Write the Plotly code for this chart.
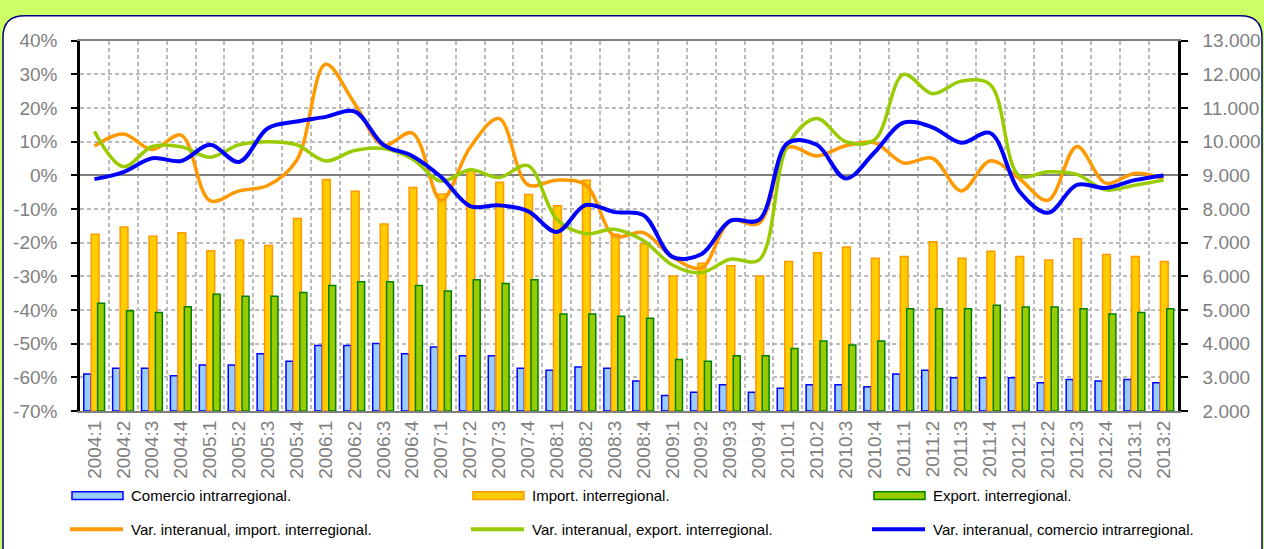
import plotly.graph_objects as go

W, H = 1264, 549

# Data
periods = [
    "2004:1", "2004:2", "2004:3", "2004:4", "2005:1", "2005:2", "2005:3", "2005:4",
    "2006:1", "2006:2", "2006:3", "2006:4", "2007:1", "2007:2", "2007:3", "2007:4",
    "2008:1", "2008:2", "2008:3", "2008:4", "2009:1", "2009:2", "2009:3", "2009:4",
    "2010:1", "2010:2", "2010:3", "2010:4", "2011:1", "2011:2", "2011:3", "2011:4",
    "2012:1", "2012:2", "2012:3", "2012:4", "2013:1", "2013:2",
]

comercio = [
    3100, 3270, 3270, 3050, 3370, 3370, 3700, 3480, 3950, 3950, 4010, 3700,
    3900, 3640, 3640, 3270, 3210, 3310, 3270, 2890, 2460, 2560, 2780, 2560,
    2680, 2780, 2780, 2720, 3100, 3210, 2990, 2990, 2990, 2840, 2940, 2890,
    2940, 2840,
]
importacion = [
    7250, 7470, 7190, 7300, 6760, 7080, 6920, 7720, 8880, 8530, 7560, 8640,
    8450, 9140, 8800, 8430, 8100, 8860, 7250, 6960, 6010, 6390, 6320, 6010,
    6440, 6700, 6870, 6540, 6590, 7030, 6540, 6750, 6590, 6490, 7120, 6650,
    6590, 6440,
]
exportacion = [
    5200, 4980, 4930, 5100, 5470, 5410, 5410, 5520, 5730, 5840, 5840, 5730,
    5570, 5900, 5790, 5900, 4880, 4880, 4820, 4760, 3530, 3480, 3640, 3640,
    3860, 4080, 3960, 4080, 5040, 5040, 5040, 5140, 5090, 5090, 5040, 4880,
    4930, 5040,
]

var_import = [
    8.7, 12.3, 7.7, 12.0, -7.5, -4.6, -3.0, 4.5, 33.0, 21.4, 9.0, 12.6,
    -7.4, 8.3, 16.9, -2.8, -1.4, -2.8, -18.0, -17.0, -24.2, -27.5, -13.5, -14.2,
    8.3, 5.8, 8.8, 9.7, 3.7, 5.1, -4.6, 4.3, -0.9, -7.4, 8.6, -2.3, 0.6, -0.9,
]
var_export = [
    13.1, 2.6, 8.6, 8.5, 5.4, 9.1, 10.0, 9.1, 4.3, 7.4, 8.0, 4.9,
    -1.7, 1.7, -0.6, 2.9, -13.0, -17.3, -16.0, -19.4, -26.6, -28.9, -24.9, -25.1,
    9.1, 16.9, 10.0, 10.6, 30.0, 24.3, 28.0, 27.0, 0.0, 1.1, 0.3, -4.3, -2.9, -1.4,
]
var_comercio = [
    -1.1, 1.0, 5.1, 4.3, 9.1, 4.0, 14.0, 16.0, 17.4, 19.0, 9.1, 5.8,
    -0.5, -9.1, -8.9, -10.6, -16.8, -8.8, -10.9, -11.8, -24.2, -23.4, -13.5, -13.2,
    9.7, 9.1, -0.9, 6.9, 15.7, 14.3, 9.7, 12.6, -4.6, -11.1, -2.8, -3.7, -1.4, 0.0,
]

pct_ticks = [40, 30, 20, 10, 0, -10, -20, -30, -40, -50, -60, -70]
pct_labels = ["40%", "30%", "20%", "10%", "0%", "-10%", "-20%", "-30%",
              "-40%", "-50%", "-60%", "-70%"]
val_ticks = [13000, 12000, 11000, 10000, 9000, 8000, 7000, 6000, 5000, 4000, 3000, 2000]
val_labels = ["13.000", "12.000", "11.000", "10.000", "9.000", "8.000",
              "7.000", "6.000", "5.000", "4.000", "3.000", "2.000"]

bar_names = ["Comercio intrarregional.", "Import. interregional.", "Export. interregional."]
line_names = ["Var. interanual, import. interregional.",
              "Var. interanual, export. interregional.",
              "Var. interanual, comercio intrarregional."]

FONT = "Liberation Sans, Arial, sans-serif"
GRAY = "#808080"
GRID = "#BBBBBB"


def px(x):
    return x / W


def py(y):
    return 1 - y / H


fig = go.Figure()

# bars (value axis on the right)
bar_styles = [
    ("#99CCFF", "#0000FF", -0.37, 0.25, comercio),
    ("#FFCC00", "#FF9900", -0.11, 0.27, importacion),
    ("#99CC00", "#008000", 0.11, 0.24, exportacion),
]
for name, (fill, edge, off, wid, vals) in zip(bar_names, bar_styles):
    fig.add_trace(
        go.Bar(
            x=periods,
            y=[v - 2000 for v in vals],
            base=2000,
            name=name,
            offset=off,
            width=wid,
            marker=dict(color=fill, line=dict(color=edge, width=1.5)),
            yaxis="y",
            showlegend=False,
        )
    )

# smoothed lines (percent axis on the left)
line_styles = [("#FF9900", 3.5, var_import), ("#99CC00", 3.5, var_export),
               ("#0000FF", 4, var_comercio)]
for name, (col, w, vals) in zip(line_names, line_styles):
    fig.add_trace(
        go.Scatter(
            x=periods,
            y=vals,
            name=name,
            mode="lines",
            line=dict(color=col, width=w, shape="spline", smoothing=1.0),
            yaxis="y2",
            showlegend=False,
        )
    )

# rounded white panel (open at the bottom edge)
L, T, R, B, r = 3, 6, 1262, 620, 22
panel = (
    f"M {px(L)},{py(B)} L {px(L)},{py(T + r)} Q {px(L)},{py(T)} {px(L + r)},{py(T)} "
    f"L {px(R - r)},{py(T)} Q {px(R)},{py(T)} {px(R)},{py(T + r)} L {px(R)},{py(B)} Z"
)
shapes = [
    dict(type="path", path=panel, xref="paper", yref="paper",
         fillcolor="white", line=dict(color="#000080", width=1.5), layer="below")
]

# hand-made legend, 2 rows x 3 columns
annotations = []
col_x = [72, 473, 874]
for i, name in enumerate(bar_names):
    fill, edge = bar_styles[i][0], bar_styles[i][1]
    x0 = col_x[i]
    shapes.append(dict(type="rect", xref="paper", yref="paper",
                       x0=px(x0), x1=px(x0 + 51), y0=py(509), y1=py(501),
                       fillcolor=fill, line=dict(color=edge, width=1.5)))
    annotations.append(dict(text=name, x=px(x0 + 57), y=py(505), xref="paper", yref="paper",
                            xanchor="left", yanchor="middle", showarrow=False,
                            font=dict(size=15, color="black", family=FONT)))
for i, name in enumerate(line_names):
    col = line_styles[i][0]
    x0 = col_x[i]
    shapes.append(dict(type="line", xref="paper", yref="paper",
                       x0=px(x0 - 2), x1=px(x0 + 51), y0=py(540), y1=py(540),
                       line=dict(color=col, width=4)))
    annotations.append(dict(text=name, x=px(x0 + 57), y=py(540), xref="paper", yref="paper",
                            xanchor="left", yanchor="middle", showarrow=False,
                            font=dict(size=15, color="black", family=FONT)))

fig.update_layout(
    autosize=True,
    margin=dict(l=0, r=0, t=0, b=0),
    paper_bgcolor="#CCFF66",
    plot_bgcolor="white",
    font=dict(family=FONT, size=19, color=GRAY),
    barmode="overlay",
    showlegend=False,
    shapes=shapes,
    annotations=annotations,
    xaxis=dict(
        type="category",
        domain=[px(80), px(1178)],
        range=[-0.5, len(periods) - 0.5],
        tickson="boundaries",
        ticks="",
        tickangle=-90,
        tickfont=dict(size=19, color=GRAY),
        showgrid=True,
        gridcolor=GRID,
        gridwidth=1.5,
        griddash="4px,3px",
        showline=True,
        linecolor=GRAY,
        linewidth=2,
        mirror=True,
    ),
    yaxis=dict(
        domain=[py(417), py(32)],
        range=[2000, 13000],
        side="right",
        tickvals=val_ticks,
        ticktext=val_labels,
        ticks="outside",
        ticklen=7,
        tickwidth=2,
        tickcolor="black",
        showline=True,
        linecolor="black",
        linewidth=2.5,
        showgrid=True,
        gridcolor=GRID,
        gridwidth=1.5,
        griddash="4px,3px",
        zeroline=False,
        ticklabelstandoff=11,
    ),
    yaxis2=dict(
        overlaying="y",
        side="left",
        range=[-70, 40],
        tickvals=pct_ticks,
        ticktext=pct_labels,
        ticks="outside",
        ticklen=6,
        tickwidth=2,
        tickcolor="black",
        showline=True,
        linecolor="black",
        linewidth=2.5,
        showgrid=False,
        zeroline=True,
        zerolinecolor=GRAY,
        zerolinewidth=2,
        ticklabelstandoff=10,
    ),
)

fig.write_html(
    "out.html",
    config={"displayModeBar": False},
    default_width="100vw",
    default_height="100vh",
    post_script="document.body.style.margin='0';document.body.style.overflow='hidden';",
)
